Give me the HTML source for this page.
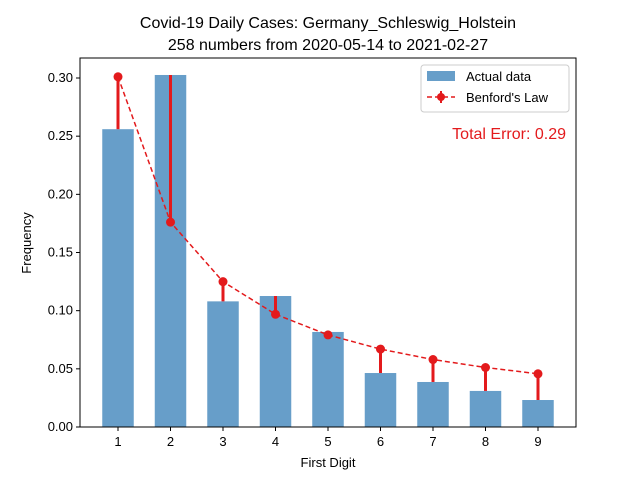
<!DOCTYPE html>
<html><head><meta charset="utf-8"><style>
body{margin:0;background:#fff}
svg{display:block;font-family:"Liberation Sans","DejaVu Sans",sans-serif}
</style></head><body>
<svg id="chart" width="640" height="480">
<text x="328" y="28" text-anchor="middle" font-size="16">Covid-19 Daily Cases: Germany_Schleswig_Holstein</text>
<text x="328" y="50" text-anchor="middle" font-size="16">258 numbers from 2020-05-14 to 2021-02-27</text>
<g id="plot"></g>
<text x="328" y="467" text-anchor="middle" font-size="13">First Digit</text>
<text transform="translate(31,243) rotate(-90)" text-anchor="middle" font-size="13">Frequency</text>
<g>
<rect x="421" y="65" width="148" height="47" fill="#fff" stroke="#ccc" rx="3"/>
<rect x="427" y="71" width="28" height="10" fill="#4c8dbf" opacity="0.85"/>
<text x="466" y="81" font-size="13">Actual data</text>
<line x1="427" y1="97" x2="455" y2="97" stroke="#e31a1c" stroke-width="1.5" stroke-dasharray="5,3"/>
<line x1="441" y1="91" x2="441" y2="103" stroke="#e31a1c" stroke-width="2"/>
<circle cx="441" cy="97" r="4" fill="#e31a1c"/>
<text x="466" y="102" font-size="13">Benford's Law</text>
</g>
<text x="566" y="139" text-anchor="end" font-size="16" fill="#e31a1c">Total Error: 0.29</text>
</svg>
<script>
const digits=[1,2,3,4,5,6,7,8,9];
const actual=[0.256,0.3026,0.108,0.1126,0.0817,0.0464,0.0387,0.031,0.0232];
const benford=[0.30103,0.17609,0.12494,0.09691,0.07918,0.06695,0.05799,0.05115,0.04576];
const yTicks=[0,0.05,0.10,0.15,0.20,0.25,0.30];
const L=80,R=576,T=58,B=427;
const xMin=0.276,xMax=9.724,yMax=0.3172;
const xs=v=>L+(v-xMin)/(xMax-xMin)*(R-L);
const ys=v=>B-v/yMax*(B-T);
const NS="http://www.w3.org/2000/svg";
const g=document.getElementById('plot');
function mk(t,a){const e=document.createElementNS(NS,t);for(const k in a)e.setAttribute(k,a[k]);g.appendChild(e);return e;}
const bw=xs(0.6)-xs(0);
digits.forEach((d,i)=>{
 const b=mk('rect',{x:xs(d)-bw/2,y:ys(actual[i]),width:bw,height:B-ys(actual[i]),fill:'#4c8dbf',opacity:0.85});
 
 
});
digits.forEach((d,i)=>{
 const e=mk('line',{x1:xs(d),x2:xs(d),y1:ys(benford[i]),y2:ys(actual[i]),stroke:'#e31a1c','stroke-width':3});
 
 
});
const p=mk('polyline',{points:digits.map((d,i)=>xs(d)+','+ys(benford[i])).join(' '),fill:'none',stroke:'#e31a1c','stroke-width':1.5,'stroke-dasharray':'5,3'});


digits.forEach((d,i)=>{
 const c=mk('circle',{cx:xs(d),cy:ys(benford[i]),r:4.5,fill:'#e31a1c'});
 
 
});
const fr=mk('rect',{x:L,y:T,width:R-L,height:B-T,fill:'none',stroke:'#000','stroke-width':1});


yTicks.forEach(v=>{
 mk('line',{x1:L-4,x2:L,y1:ys(v),y2:ys(v),stroke:'#000'});
 const t=mk('text',{x:L-7,y:ys(v)+4,'text-anchor':'end','font-size':13});
 t.textContent=v.toFixed(2);
 
 
});
digits.forEach(d=>{
 mk('line',{x1:xs(d),x2:xs(d),y1:B,y2:B+4,stroke:'#000'});
 const t=mk('text',{x:xs(d),y:B+19,'text-anchor':'middle','font-size':13});
 t.textContent=d;
 
 
});
</script>
</body></html>
